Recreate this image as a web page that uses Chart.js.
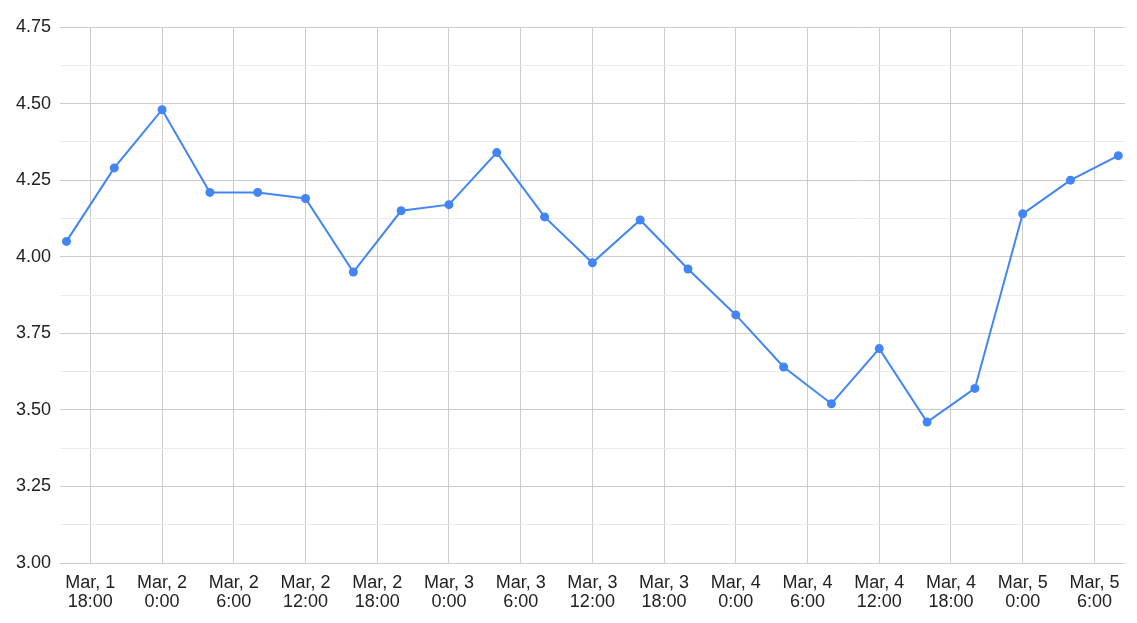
<!DOCTYPE html>
<html>
<head>
<meta charset="utf-8">
<script src="https://cdn.jsdelivr.net/npm/chart.js@4"></script>
<style>
html,body{margin:0;padding:0;background:#fff;}
#wrap{width:1137px;height:623px;}
</style>
</head>
<body>
<div id="wrap"><canvas id="c" width="1137" height="623"></canvas></div>
<script>
// Hours since Mar 1 0:00
const pointHours = [16,20,24,28,32,36,40,44,48,52,56,60,64,68,72,76,80,84,88,92,96,100,104];
const values = [4.05,4.29,4.48,4.21,4.21,4.19,3.95,4.15,4.17,4.34,4.13,3.98,4.12,3.96,3.81,3.64,3.52,3.70,3.46,3.57,4.14,4.25,4.33];
const xTickValues = [18,24,30,36,42,48,54,60,66,72,78,84,90,96,102];
const xTickLabels = [
  ["Mar, 1","18:00"],["Mar, 2","0:00"],["Mar, 2","6:00"],["Mar, 2","12:00"],["Mar, 2","18:00"],
  ["Mar, 3","0:00"],["Mar, 3","6:00"],["Mar, 3","12:00"],["Mar, 3","18:00"],
  ["Mar, 4","0:00"],["Mar, 4","6:00"],["Mar, 4","12:00"],["Mar, 4","18:00"],
  ["Mar, 5","0:00"],["Mar, 5","6:00"]
];
const yTickLabels = ["3.00","3.25","3.50","3.75","4.00","4.25","4.50","4.75"];

const FONT = {family: "'Liberation Sans', Arial, sans-serif", size: 18, lineHeight: 1.02};
Chart.defaults.font = FONT;
Chart.defaults.color = '#222';

new Chart(document.getElementById('c'), {
  type: 'line',
  data: {
    datasets: [{
      data: pointHours.map((h, i) => ({x: h, y: values[i]})),
      borderColor: '#4285f4',
      backgroundColor: '#4285f4',
      borderWidth: 2,
      pointRadius: 4.5,
      pointBorderWidth: 0,
      pointBackgroundColor: '#4285f4',
      tension: 0,
      fill: false
    }]
  },
  options: {
    responsive: false,
    animation: false,
    devicePixelRatio: 1,
    layout: {padding: {left: 0, right: 12, top: 27, bottom: 0}},
    plugins: {legend: {display: false}, tooltip: {enabled: false}},
    scales: {
      x: {
        type: 'linear',
        min: 15.46,
        max: 104.56,
        afterBuildTicks: (s) => { s.ticks = xTickValues.map(v => ({value: v})); },
        afterFit: (s) => { s.height = 60; },
        border: {display: false},
        grid: {color: '#cccccc', drawTicks: false, lineWidth: 1},
        ticks: {
          autoSkip: false,
          maxRotation: 0,
          padding: 11,
          font: FONT,
          color: '#222',
          callback: (v) => { const i = xTickValues.indexOf(v); return i >= 0 ? xTickLabels[i] : ''; }
        }
      },
      y: {
        min: 3,
        max: 4.75,
        afterBuildTicks: (s) => {
          const t = [];
          for (let i = 0; i <= 14; i++) t.push({value: 3 + i * 0.125});
          s.ticks = t;
        },
        afterFit: (s) => { s.width = 60; },
        border: {display: false},
        grid: {
          drawTicks: false,
          lineWidth: 1,
          color: (ctx) => (ctx.tick && Math.round(ctx.tick.value * 1000) % 250 === 0) ? '#cccccc' : '#ebebeb'
        },
        ticks: {
          autoSkip: false,
          padding: 9,
          font: FONT,
          color: '#222',
          callback: (v) => {
            const k = Math.round((v - 3) / 0.25 * 1000) / 1000;
            return Number.isInteger(k) ? yTickLabels[k] : '';
          }
        }
      }
    }
  }
});
</script>
</body>
</html>
